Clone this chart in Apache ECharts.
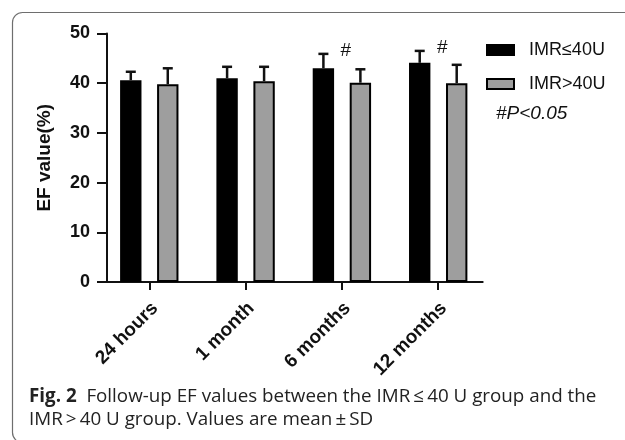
<!DOCTYPE html>
<html><head><meta charset="utf-8">
<script src="https://cdn.jsdelivr.net/npm/echarts@6/dist/echarts.min.js"></script>
<style>html,body{margin:0;padding:0;background:#fff}#c{width:625px;height:440px}</style>
</head><body><div id="c"></div>
<script>
const categories = ['24 hours', '1 month', '6 months', '12 months'];
const seriesNames = ['IMR≤40U', 'IMR>40U'];
const lowMean = [40.6, 41.0, 43.0, 44.1];
const lowSD = [1.7, 2.3, 2.9, 2.4];
const highMean = [39.8, 40.4, 40.1, 40.0];
const highSD = [3.2, 2.9, 2.7, 3.7];
const sigMarks = ['', '', '#', '#'];
const yTicks = [0, 10, 20, 30, 40, 50];
const sigNote = '#P<0.05';
const captionLine1 = 'Follow-up EF values between the IMR\u2009\u2264\u200940 U group and the';
const captionLine2 = 'IMR\u2009>\u200940 U group. Values are mean\u2009\u00b1\u2009SD';

const BAR_W = 0.222, BAR_GAP = 0.73;
const chart = echarts.init(document.getElementById('c'), null, {renderer: 'canvas'});

function errRender(k) {
  return function (params, api) {
    const i = api.value(0), m = api.value(1), sd = api.value(2);
    const band = api.size([1, 0])[0];
    const bw = band * BAR_W, gap = bw * BAR_GAP;
    const off = (k === 0 ? -1 : 1) * (bw + gap) / 2;
    const c = api.coord([i, m]);
    const t = api.coord([i, m + sd]);
    const x = c[0] + off;
    return {type: 'group', children: [
      {type: 'line', shape: {x1: x, y1: c[1], x2: x, y2: t[1]}, style: {stroke: '#111', lineWidth: 2.5}},
      {type: 'line', shape: {x1: x - 5, y1: t[1], x2: x + 5, y2: t[1]}, style: {stroke: '#111', lineWidth: 2.5}}
    ]};
  };
}

const sigData = categories.map((c, i) => [i, Math.max(lowMean[i] + lowSD[i], highMean[i] + highSD[i])]);

const option = {
  animation: false,
  backgroundColor: '#fff',
  grid: {left: 107, top: 33.5, width: 375.7, height: 248.5},
  xAxis: {
    type: 'value', min: -0.439, max: 3.462,
    splitLine: {show: false},
    axisLine: {show: true, onZero: false, lineStyle: {color: '#111', width: 2}},
    axisTick: {show: true, customValues: categories.map((c, i) => i), length: 8, lineStyle: {color: '#111', width: 2}},
    axisLabel: {
      customValues: categories.map((c, i) => i),
      formatter: v => categories[Math.round(v)],
      rotate: 45, margin: 29, padding: [0, -8, 0, 0], fontSize: 19, fontWeight: 'bold', fontFamily: 'Arial', color: '#111'
    }
  },
  yAxis: {
    type: 'value', min: 0, max: 50, interval: 10,
    splitLine: {show: false},
    axisLine: {show: true, onZero: false, lineStyle: {color: '#111', width: 2}},
    axisTick: {show: true, length: 10, lineStyle: {color: '#111', width: 2}},
    axisLabel: {fontSize: 18, fontWeight: 'bold', fontFamily: 'Arial', color: '#111', margin: 17},
    name: 'EF value(%)', nameLocation: 'middle', nameGap: 53, nameRotate: 90,
    nameTextStyle: {fontSize: 19, fontWeight: 'bold', fontFamily: 'Arial', color: '#111'}
  },
  legend: {
    orient: 'vertical', left: 486, top: 41, padding: 0, itemWidth: 27, itemHeight: 10, itemGap: 16, icon: 'rect',
    data: seriesNames,
    textStyle: {fontSize: 18, fontFamily: 'Arial', color: '#111', padding: [0, 0, 0, 10]}
  },
  graphic: [
    {type: 'rect', shape: {x: 12.5, y: 12.5, width: 640, height: 430, r: 10}, style: {fill: 'none', stroke: '#6e6e6e', lineWidth: 1.2}, silent: true},
    {type: 'text', left: 496, top: 104, style: {text: sigNote, fontSize: 19, fontStyle: 'italic', fontFamily: 'Arial', fill: '#111'}},
    {type: 'text', left: 29, top: 387, style: {
      text: '{b|Fig. 2}  ' + captionLine1,
      fontSize: 18.8, fontFamily: 'Open Sans', fill: '#222',
      rich: {b: {fontWeight: 'bold', fontSize: 18.8, fontFamily: 'Open Sans', fill: '#222'}}
    }},
    {type: 'text', left: 29, top: 410, style: {text: captionLine2, fontSize: 18.8, fontFamily: 'Open Sans', fill: '#222'}}
  ],
  series: [
    {type: 'bar', name: seriesNames[0], data: lowMean.map((v, i) => [i, v]), barWidth: (BAR_W * 100) + '%', barGap: (BAR_GAP * 100) + '%',
     itemStyle: {color: '#000', borderColor: '#000', borderWidth: 2}},
    {type: 'bar', name: seriesNames[1], data: highMean.map((v, i) => [i, v]), barWidth: (BAR_W * 100) + '%', barGap: (BAR_GAP * 100) + '%',
     itemStyle: {color: '#9e9e9e', borderColor: '#000', borderWidth: 2}},
    {type: 'custom', renderItem: errRender(0), data: lowMean.map((v, i) => [i, v, lowSD[i]]), z: 3, silent: true},
    {type: 'custom', renderItem: errRender(1), data: highMean.map((v, i) => [i, v, highSD[i]]), z: 3, silent: true},
    {type: 'custom', silent: true, z: 4, data: sigData,
     renderItem: function (params, api) {
       const i = api.value(0), top = api.value(1), mark = sigMarks[i];
       if (!mark) return null;
       const p = api.coord([i, top]);
       return {type: 'text', style: {text: mark, x: p[0] + 4, y: p[1] - 3, align: 'center', verticalAlign: 'middle', fontSize: 19, fontFamily: 'Arial', fill: '#111'}};
     }}
  ]
};
chart.setOption(option);
</script></body></html>
